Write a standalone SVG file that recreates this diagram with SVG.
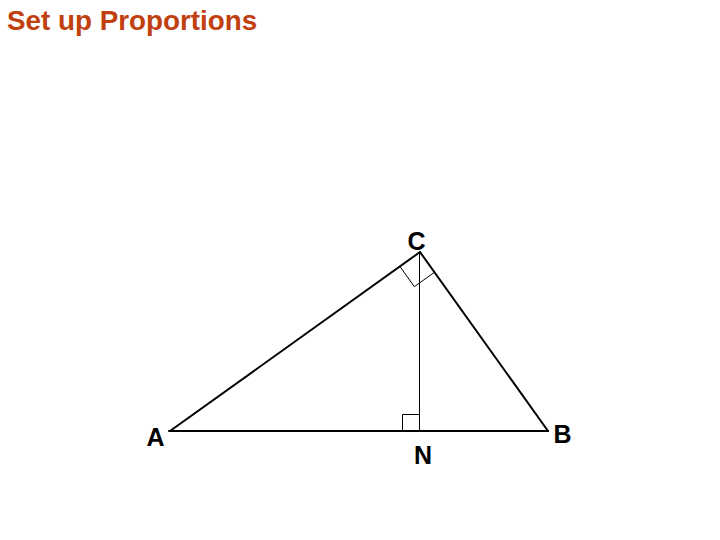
<svg xmlns="http://www.w3.org/2000/svg" width="720" height="540" viewBox="0 0 720 540">
<style>
.title{font-family:"Liberation Sans",Arial,sans-serif;font-weight:bold;font-size:27.8px;fill:#C0400F}
.lbl{font-family:"Liberation Sans",Arial,sans-serif;font-weight:bold;font-size:25px;fill:#000;text-anchor:middle}
.side{stroke:#000;stroke-width:2;fill:none;stroke-linecap:round}
.thin{stroke:#000;stroke-width:1;fill:none}
</style>
<rect width="720" height="540" fill="#fff"/>
<text class="title" x="7" y="30">Set up Proportions</text>
<g id="connectors">
<line class="side" x1="170" y1="431" x2="420" y2="252"/>
<line class="side" x1="420" y1="252" x2="548" y2="431"/>
<line class="side" x1="169" y1="431" x2="548" y2="431"/>
<line class="thin" x1="419.5" y1="252" x2="419.5" y2="431"/>
<polyline class="thin" points="400,266.5 414.3,286.7 434.4,272.3"/>
<polyline class="thin" points="402.5,431 402.5,414.5 419.5,414.5"/>
</g>
<g id="node-C"><text class="lbl" x="416.5" y="250">C</text></g>
<g id="node-A"><text class="lbl" x="155.5" y="446">A</text></g>
<g id="node-N"><text class="lbl" x="423" y="464">N</text></g>
<g id="node-B"><text class="lbl" x="562.5" y="443">B</text></g>
</svg>
